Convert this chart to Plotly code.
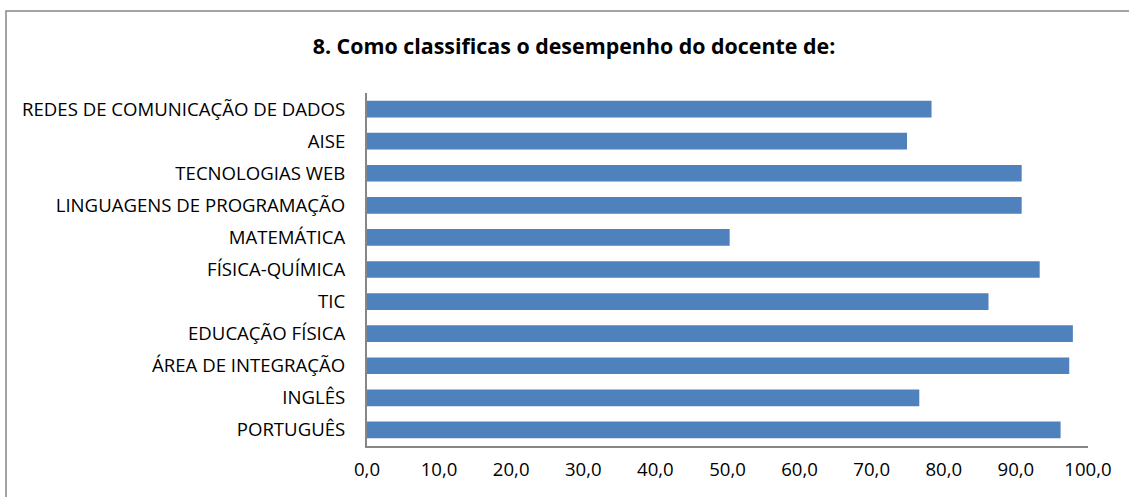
import plotly.graph_objects as go

categories = ["PORTUGUÊS", "INGLÊS", "ÁREA DE INTEGRAÇÃO", "EDUCAÇÃO FÍSICA", "TIC",
              "FÍSICA-QUÍMICA", "MATEMÁTICA", "LINGUAGENS DE PROGRAMAÇÃO",
              "TECNOLOGIAS WEB", "AISE", "REDES DE COMUNICAÇÃO DE DADOS"]
values = [96.2, 76.6, 97.4, 97.9, 86.2, 93.3, 50.3, 90.8, 90.8, 74.9, 78.3]
x_ticks = [0, 10, 20, 30, 40, 50, 60, 70, 80, 90, 100]
x_tick_labels = ["0,0", "10,0", "20,0", "30,0", "40,0", "50,0", "60,0", "70,0", "80,0", "90,0", "100,0"]
title = "8. Como classificas o desempenho do docente de:"

fig = go.Figure(go.Bar(
    y=categories, x=values, orientation="h",
    marker=dict(color="#4F81BD", line=dict(width=0)),
))

W, H = 1129, 497
ml, mr, mt, mb = 367, 41, 93, 51
pw, ph = W - ml - mr, H - mt - mb

fig.update_layout(
    width=W, height=H,
    margin=dict(l=ml, r=mr, t=mt, b=mb, pad=0),
    paper_bgcolor="white", plot_bgcolor="white",
    bargap=0.48,
    showlegend=False,
    font=dict(family="Open Sans", size=18.6, color="black"),
    title=dict(text="<b>" + title + "</b>", x=574 / W, xanchor="center",
               y=1 - 47 / H, yanchor="middle",
               font=dict(family="Open Sans", size=21.4, color="black")),
    xaxis=dict(range=[0, 100], tickvals=x_ticks, ticktext=x_tick_labels,
               showgrid=False, zeroline=False, showline=True,
               linecolor="#868686", linewidth=2, ticks="outside", ticklen=6,
               tickcolor="rgba(0,0,0,0)",
               tickfont=dict(size=18.6), fixedrange=True),
    yaxis=dict(showgrid=False, zeroline=False, showline=True,
               linecolor="#868686", linewidth=2, ticks="outside", ticklen=16,
               tickcolor="rgba(0,0,0,0)",
               tickfont=dict(size=18.6), categoryorder="array",
               categoryarray=categories, fixedrange=True),
    shapes=[dict(type="rect", xref="paper", yref="paper",
                 x0=(6 - ml) / pw, x1=(1140 - ml) / pw,
                 y0=(H - 510 - mb) / ph,
                 y1=(H - 11 - mb) / ph,
                 line=dict(color="#868686", width=1.5), fillcolor="rgba(0,0,0,0)",
                 layer="below")],
)

fig.write_html("out.html", config={"displayModeBar": False},
               post_script="document.body.style.margin='0';")
